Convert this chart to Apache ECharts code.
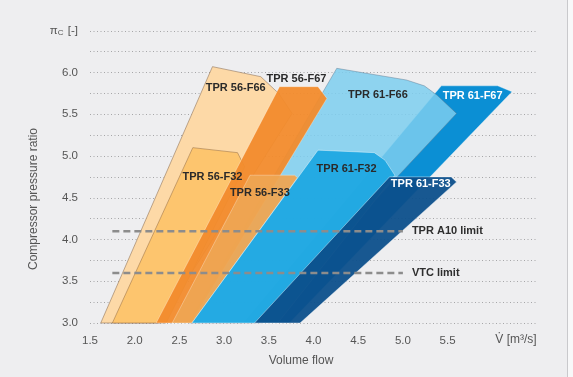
<!DOCTYPE html>
<html>
<head>
<meta charset="utf-8">
<script src="https://cdn.jsdelivr.net/npm/echarts@6/dist/echarts.min.js"></script>
<style>
  html, body { margin: 0; padding: 0; background: #eeeef0; }
  #chart { width: 573px; height: 377px; }
</style>
</head>
<body>
<div id="chart"></div>
<script>
// operating ranges, points are [volume flow m3/s, pressure ratio]
const tpr56F66 = [[1.62, 3.0], [2.87, 6.07], [3.41, 5.95], [3.61, 5.75], [3.76, 5.51], [2.28, 3.0]]
const tpr56F32 = [[1.75, 3.0], [2.65, 5.10], [3.15, 5.04], [3.23, 4.87], [2.35, 3.0]]
const tpr61F67 = [[3.21, 3.0], [5.43, 5.84], [6.06, 5.84], [6.22, 5.77], [3.73, 3.0]]
const tpr61F66 = [[2.60, 3.0], [4.26, 6.05], [5.04, 5.91], [5.24, 5.84], [5.38, 5.73], [5.60, 5.51], [3.41, 3.0]]
const tpr56F67 = [[2.24, 3.0], [3.62, 5.83], [4.05, 5.83], [4.15, 5.69], [2.63, 3.0]]
const tpr56F33 = [[2.42, 3.0], [3.29, 4.77], [3.79, 4.77], [3.82, 4.74], [2.64, 3.0]]
const tpr61F32 = [[2.64, 3.0], [4.05, 5.07], [4.68, 5.04], [4.80, 4.95], [4.91, 4.77], [3.60, 3.0]]
const tpr61F33 = [[3.34, 3.0], [4.85, 4.75], [5.54, 4.75], [5.60, 4.69], [3.85, 3.0]]

const labelNames = ['TPR 56-F66', 'TPR 56-F67', 'TPR 61-F66', 'TPR 61-F67', 'TPR 56-F32', 'TPR 56-F33', 'TPR 61-F32', 'TPR 61-F33']
const labelX = [3.13, 3.81, 4.72, 5.78, 2.87, 3.40, 4.37, 5.20]
const labelY = [5.81, 5.92, 5.73, 5.72, 4.75, 4.56, 4.84, 4.67]

const limitNames = ['TPR A10 limit', 'VTC limit']
const limitValues = [4.1, 3.6]
const limitFrom = 1.75
const limitTo = 5.0

const yTicks = [3.0, 3.5, 4.0, 4.5, 5.0, 5.5, 6.0]
const xTicks = [1.5, 2.0, 2.5, 3.0, 3.5, 4.0, 4.5, 5.0, 5.5]

const font = '"Liberation Sans", Arial, sans-serif'

// back to front
const shapes = [
  { pts: tpr56F66, fill: '#fdd9a7', stroke: 'rgba(140,110,80,0.7)', opacity: 1 },
  { pts: tpr56F32, fill: '#fdc56e', stroke: 'rgba(140,100,60,0.6)', opacity: 1 },
  { pts: tpr61F67, fill: '#0b8fd4', stroke: 'rgba(255,255,255,0.4)', opacity: 1 },
  { pts: tpr61F66, fill: 'rgb(124,206,239)', stroke: 'rgba(90,110,130,0.6)', opacity: 0.85 },
  { pts: tpr56F67, fill: '#f28b2c', stroke: 'rgba(255,255,255,0.4)', opacity: 0.95 },
  { pts: tpr56F33, fill: '#eea552', stroke: 'rgba(255,255,255,0.4)', opacity: 0.95 },
  { pts: tpr61F32, fill: '#1fa8e1', stroke: 'rgba(255,255,255,0.5)', opacity: 0.95 },
  { pts: tpr61F33, fill: '#0c4f8b', stroke: 'rgba(255,255,255,0.5)', opacity: 0.95 }
]

const whiteLabels = ['TPR 61-F67', 'TPR 61-F33']

const myChart = echarts.init(document.getElementById('chart'))

myChart.setOption({
  backgroundColor: '#eeeef0',
  animation: false,
  grid: { left: 90, right: 36, top: 30.75, bottom: 54 },
  xAxis: {
    type: 'value',
    min: 1.5,
    max: 6.5,
    interval: 0.5,
    axisLine: { show: false },
    axisTick: { show: false },
    splitLine: { show: false },
    axisLabel: {
      margin: 12,
      color: '#555',
      fontSize: 11.5,
      fontFamily: font,
      formatter: v => xTicks.some(t => Math.abs(t - v) < 1e-6) ? v.toFixed(1) : ''
    }
  },
  yAxis: {
    type: 'value',
    min: 3,
    max: 6.5,
    interval: 0.25,
    axisLine: { show: false },
    axisTick: { show: false },
    splitLine: {
      show: true,
      lineStyle: { type: [1, 2.5], color: '#a6a6a8', width: 1 }
    },
    axisLabel: {
      margin: 12,
      color: '#555',
      fontSize: 11.5,
      fontFamily: font,
      formatter: v => {
        if (Math.abs(v - 6.5) < 1e-6) return '{p|π}{s|C}{p| [-]}'
        return yTicks.some(t => Math.abs(t - v) < 1e-6) ? v.toFixed(1) : ''
      },
      rich: {
        p: { fontSize: 11.5, color: '#555', fontFamily: font },
        s: { fontSize: 8, color: '#555', fontFamily: font, padding: [5, 1, 0, 0] }
      }
    }
  },
  graphic: [
    { type: 'rect', shape: { x: 567, y: 0, width: 6, height: 377 }, style: { fill: '#f8f8f9' } },
    { type: 'line', shape: { x1: 567.5, y1: 0, x2: 567.5, y2: 377 }, style: { stroke: '#c9c9cc', lineWidth: 1 } },
    {
      type: 'text', x: 34, y: 199, rotation: Math.PI / 2,
      style: { text: 'Compressor pressure ratio', font: '12px ' + font, fill: '#555', textAlign: 'center', textVerticalAlign: 'middle' }
    },
    {
      type: 'text', x: 301, y: 361,
      style: { text: 'Volume flow', font: '12px ' + font, fill: '#555', textAlign: 'center', textVerticalAlign: 'middle' }
    },
    {
      type: 'text', x: 516, y: 340,
      style: { text: 'V\u0307 [m³/s]', font: '12px ' + font, fill: '#555', textAlign: 'center', textVerticalAlign: 'middle' }
    }
  ],
  series: [
    {
      type: 'custom',
      z: 2,
      silent: true,
      data: shapes.map(s => s.pts[0]),
      renderItem: (params, api) => {
        const s = shapes[params.dataIndex]
        return {
          type: 'polygon',
          shape: { points: s.pts.map(p => api.coord(p)) },
          style: { fill: s.fill, stroke: s.stroke, lineWidth: 0.8, opacity: s.opacity }
        }
      }
    },
    ...limitNames.map((name, i) => ({
      name: name,
      type: 'line',
      z: 4,
      silent: true,
      symbol: 'none',
      data: [[limitFrom, limitValues[i]], [limitTo, limitValues[i]]],
      lineStyle: { color: '#8c8c8c', width: 2.5, type: [7, 4] },
      endLabel: {
        show: true,
        distance: 9,
        formatter: name,
        color: '#2e2e2e',
        fontWeight: 'bold',
        fontSize: 11,
        fontFamily: font
      }
    })),
    {
      type: 'custom',
      z: 5,
      silent: true,
      data: labelNames.map((n, i) => [labelX[i], labelY[i]]),
      renderItem: (params, api) => {
        const p = api.coord([api.value(0), api.value(1)])
        const name = labelNames[params.dataIndex]
        return {
          type: 'text',
          x: p[0],
          y: p[1],
          style: {
            text: name,
            font: 'bold 11px ' + font,
            fill: whiteLabels.includes(name) ? '#ffffff' : '#2a2a2a',
            textAlign: 'center',
            textVerticalAlign: 'middle'
          }
        }
      }
    }
  ]
})
</script>
</body>
</html>
